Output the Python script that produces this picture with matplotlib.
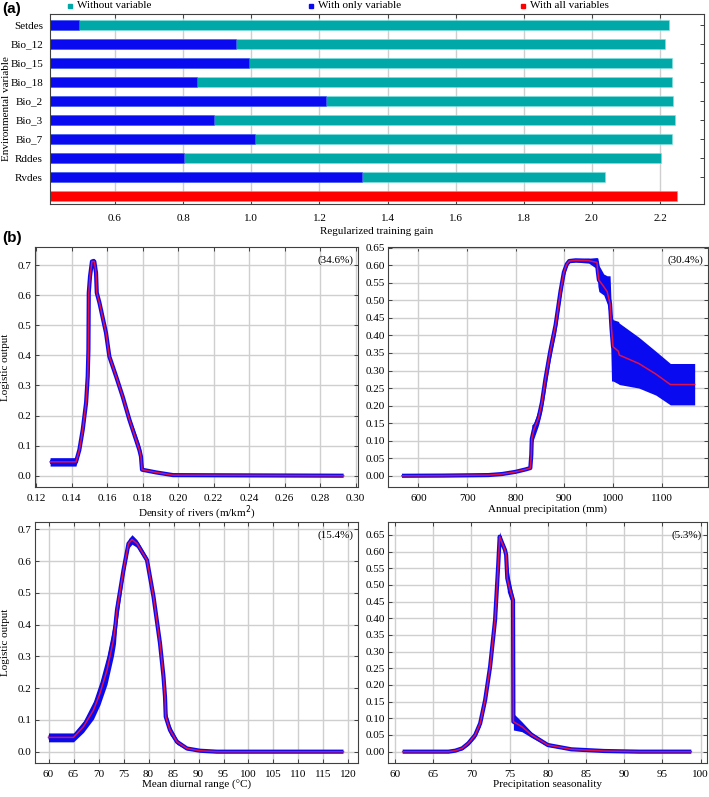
import numpy as np
import matplotlib
matplotlib.use("Agg")
import matplotlib.pyplot as plt
from matplotlib.lines import Line2D

plt.rcParams['font.family'] = ['Liberation Serif', 'DejaVu Serif']
plt.rcParams['font.size'] = 8

# ---- (a) jackknife of regularized training gain ----
variables = ["Setdes", "Bio_12", "Bio_15", "Bio_18", "Bio_2", "Bio_3", "Bio_7", "Rddes", "Rvdes"]
gain_without = [2.226, 2.215, 2.235, 2.235, 2.238, 2.244, 2.235, 2.203, 2.038]
gain_only = [0.494, 0.956, 0.994, 0.841, 1.22, 0.89, 1.012, 0.803, 1.324]
gain_all = 2.25
gain_ticks = [0.6, 0.8, 1.0, 1.2, 1.4, 1.6, 1.8, 2.0, 2.2]

# ---- (b) response curves ----
# density of rivers
x_rv = [0.1278, 0.1424, 0.1443, 0.1462, 0.1481, 0.149, 0.1494, 0.1496, 0.1503, 0.1514,
        0.1527, 0.1537, 0.1541, 0.1556, 0.1593, 0.1612, 0.165, 0.1687, 0.1725, 0.1762,
        0.1781, 0.179, 0.1796, 0.1875, 0.1971, 0.2932]
mean_rv = [0.046, 0.046, 0.086, 0.153, 0.243, 0.33, 0.419, 0.608, 0.662, 0.712,
           0.712, 0.674, 0.608, 0.575, 0.475, 0.396, 0.33, 0.263, 0.186, 0.12,
           0.086, 0.064, 0.02, 0.011, 0.002, 0.0]
sd_rv = [0.014, 0.014, 0.01, 0.008, 0.008, 0.008, 0.008, 0.01, 0.01, 0.01,
         0.01, 0.01, 0.01, 0.01, 0.01, 0.01, 0.01, 0.01, 0.012, 0.018,
         0.02, 0.02, 0.003, 0.002, 0.001, 0.0]

# annual precipitation (Bio_12)
x_bio12 = [566, 650, 744, 772, 799, 820, 830, 832, 833, 837,
           847, 854, 861, 871, 882, 892, 899, 905, 910, 923,
           950, 967, 969, 971, 981, 988, 994, 997, 1000, 1011,
           1013, 1053, 1088, 1118, 1168]
mean_bio12 = [0.0, 0.0005, 0.002, 0.005, 0.011, 0.018, 0.022, 0.06, 0.105, 0.13,
              0.165, 0.21, 0.275, 0.355, 0.43, 0.525, 0.58, 0.603, 0.612, 0.614,
              0.613, 0.608, 0.58, 0.558, 0.539, 0.525, 0.49, 0.42, 0.368, 0.355,
              0.344, 0.32, 0.29, 0.26, 0.26]
hi_bio12 = [0.0, 0.0005, 0.002, 0.005, 0.011, 0.018, 0.023, 0.10, 0.145, 0.15,
            0.19, 0.24, 0.31, 0.385, 0.455, 0.545, 0.595, 0.612, 0.617, 0.618,
            0.620, 0.622, 0.62, 0.60, 0.575, 0.57, 0.57, 0.46, 0.445, 0.44,
            0.435, 0.395, 0.355, 0.32, 0.32]
lo_bio12 = [0.0, 0.0005, 0.002, 0.005, 0.011, 0.018, 0.021, 0.04, 0.09, 0.105,
            0.145, 0.185, 0.245, 0.33, 0.405, 0.505, 0.565, 0.597, 0.607, 0.609,
            0.606, 0.59, 0.54, 0.525, 0.515, 0.49, 0.45, 0.27, 0.27, 0.262,
            0.26, 0.25, 0.23, 0.202, 0.202]

# mean diurnal range (Bio_2)
x_bio2 = [60, 65, 67, 69, 70.3, 71.7, 73, 73.4, 73.7, 75,
          76, 76.7, 77.7, 79.7, 81, 82.3, 83, 83.3, 83.45, 84.3,
          85.7, 87.7, 90.3, 93.7, 119]
mean_bio2 = [0.045, 0.045, 0.079, 0.131, 0.184, 0.257, 0.352, 0.40, 0.446, 0.572,
             0.655, 0.668, 0.655, 0.603, 0.488, 0.341, 0.236, 0.173, 0.11, 0.068,
             0.031, 0.010, 0.003, 0.0, 0.0]
sd_bio2 = [0.014, 0.014, 0.018, 0.028, 0.036, 0.045, 0.05, 0.06, 0.04, 0.02,
           0.015, 0.015, 0.012, 0.01, 0.012, 0.015, 0.02, 0.02, 0.02, 0.015,
           0.008, 0.004, 0.001, 0.0, 0.0]

# precipitation seasonality (Bio_15)
x_bio15 = [61, 67, 67.9, 68.8, 69.6, 70.5, 71.15, 71.8, 72.45, 73.1,
           73.5, 73.7, 73.95, 74.4, 74.55, 74.7, 75.0, 75.45, 75.5, 76.6,
           77.9, 80.0, 83.1, 87.4, 92, 98.8]
mean_bio15 = [0.0, 0.0, 0.003, 0.01, 0.025, 0.05, 0.085, 0.155, 0.255, 0.395,
              0.555, 0.645, 0.63, 0.605, 0.59, 0.52, 0.49, 0.455, 0.09, 0.075,
              0.05, 0.02, 0.007, 0.002, 0.0, 0.0]
sd_bio15 = [0, 0, 0.002, 0.004, 0.006, 0.008, 0.01, 0.01, 0.01, 0.01,
            0.012, 0.015, 0.01, 0.01, 0.015, 0.04, 0.03, 0.015, 0.025, 0.015,
            0.008, 0.004, 0.002, 0.001, 0, 0]

TEAL = '#00a8a8'
BLUE = '#0a0af0'
RED = '#ff0000'
LINE_RED = '#e0104c'
GRID = '#cfcfcf'

fig = plt.figure(figsize=(7.09, 7.97), dpi=100)
W, H = 709.0, 797.0


def px_axes(l, t, r, b):
    return fig.add_axes([l / W, 1 - b / H, (r - l) / W, (b - t) / H])


def style(ax):
    for s in ax.spines.values():
        s.set_color('#404040')
        s.set_linewidth(0.8)
    ax.tick_params(direction='in', top=True, right=True, length=3, width=0.7,
                   color='#404040')
    ax.tick_params(axis='x', pad=5)
    ax.tick_params(axis='y', pad=2.5)
    ax.grid(True, color=GRID, linewidth=1.0)
    ax.set_axisbelow(True)


# ---------- panel (a) ----------
ax_a = px_axes(50, 14, 704, 204)
style(ax_a)
ax_a.grid(False, axis='y')
rows = np.arange(len(variables), 0, -1)
ax_a.barh(rows, gain_without, height=0.52, color=TEAL, edgecolor='#7fe0e0', linewidth=0.4)
ax_a.barh(rows, gain_only, height=0.52, color=BLUE, edgecolor='#6060ff', linewidth=0.4)
ax_a.barh([0], [gain_all], height=0.52, color=RED, edgecolor='#ff8080', linewidth=0.4)
ax_a.set_xlim(0.409, 2.329)
ax_a.set_ylim(-0.42, 9.58)
ax_a.set_xticks(gain_ticks)
ax_a.set_xticklabels(["%.1f" % t for t in gain_ticks])
ax_a.set_yticks(rows)
ax_a.set_yticklabels(variables)
ax_a.tick_params(axis='y', left=False, pad=5)
ax_a.tick_params(axis='x', pad=7)
fig.text(377 / W, 1 - 232 / H, "Regularized training gain", ha='center', va='center')
fig.text(7 / W, 1 - 109 / H, "Environmental variable", rotation=90,
         ha='center', va='center')

legend_items = [(70, "Without variable", TEAL), (311, "With only variable", BLUE),
                (523, "With all variables", RED)]
for x0, label, c in legend_items:
    fig.add_artist(Line2D([x0 / W], [1 - 6 / H], marker='s', markersize=3.5,
                          color=c, linestyle='none', transform=fig.transFigure))
    fig.text((x0 + 7) / W, 1 - 6 / H, label, ha='left', va='center')

fig.text(2 / W, 1 - 9 / H, "(a)", family='Liberation Sans', fontweight='bold',
         fontsize=11, ha='left', va='center')
fig.text(2 / W, 1 - 238 / H, "(b)", family='Liberation Sans', fontweight='bold',
         fontsize=11, ha='left', va='center')


# ---------- response curves ----------
def curve(ax, x, mean, lo, hi):
    ax.fill_between(x, lo, hi, color=BLUE, linewidth=0, zorder=2)
    ax.plot(x, mean, color=BLUE, linewidth=3.0, zorder=2, solid_capstyle='butt')
    ax.plot(x, mean, color=LINE_RED, linewidth=1.1, zorder=3)


panels = [
    dict(box=(35, 247, 358, 487), x=x_rv, mean=mean_rv,
         lo=np.array(mean_rv) - np.array(sd_rv), hi=np.array(mean_rv) + np.array(sd_rv),
         xlim=(0.1193, 0.3013), ylim=(-0.0375, 0.76),
         xticks=[0.12, 0.14, 0.16, 0.18, 0.20, 0.22, 0.24, 0.26, 0.28, 0.30], xfmt="%.2f",
         yticks=[0.0, 0.1, 0.2, 0.3, 0.4, 0.5, 0.6, 0.7], yfmt="%.1f",
         xlabel="Density of rivers (m/km$^2$)", pct="(34.6%)", ylab=True),
    dict(box=(388, 247, 708, 487), x=x_bio12, mean=mean_bio12, lo=lo_bio12, hi=hi_bio12,
         xlim=(537.3, 1195.4), ylim=(-0.032, 0.652),
         xticks=[600, 700, 800, 900, 1000, 1100], xfmt="%d",
         yticks=[0.0, 0.05, 0.1, 0.15, 0.2, 0.25, 0.3, 0.35, 0.4, 0.45, 0.5, 0.55, 0.6, 0.65],
         yfmt="%.2f", xlabel="Annual precipitation (mm)", pct="(30.4%)", ylab=False),
    dict(box=(35, 522, 358, 763), x=x_bio2, mean=mean_bio2,
         lo=np.array(mean_bio2) - np.array(sd_bio2), hi=np.array(mean_bio2) + np.array(sd_bio2),
         xlim=(57.3, 121.9), ylim=(-0.0356, 0.723),
         xticks=list(range(60, 121, 5)), xfmt="%d",
         yticks=[0.0, 0.1, 0.2, 0.3, 0.4, 0.5, 0.6, 0.7], yfmt="%.1f",
         xlabel="Mean diurnal range (°C)", pct="(15.4%)", ylab=True),
    dict(box=(388, 522, 707, 763), x=x_bio15, mean=mean_bio15,
         lo=np.array(mean_bio15) - np.array(sd_bio15), hi=np.array(mean_bio15) + np.array(sd_bio15),
         xlim=(59.08, 100.85), ylim=(-0.034, 0.689),
         xticks=list(range(60, 101, 5)), xfmt="%d",
         yticks=[0.0, 0.05, 0.1, 0.15, 0.2, 0.25, 0.3, 0.35, 0.4, 0.45, 0.5, 0.55, 0.6, 0.65],
         yfmt="%.2f", xlabel="Precipitation seasonality", pct="(5.3%)", ylab=False),
]

for p in panels:
    ax = px_axes(*p['box'])
    style(ax)
    curve(ax, p['x'], p['mean'], p['lo'], p['hi'])
    ax.set_xlim(*p['xlim'])
    ax.set_ylim(*p['ylim'])
    ax.set_xticks(p['xticks'])
    ax.set_xticklabels([p['xfmt'] % t for t in p['xticks']])
    ax.set_yticks(p['yticks'])
    ax.set_yticklabels([p['yfmt'] % t for t in p['yticks']])
    ax.set_xlabel(p['xlabel'], labelpad=1)
    if p['ylab']:
        l, t, r, b = p['box']
        fig.text(6 / W, 1 - (t + b) / 2 / H, "Logistic output", rotation=90,
                 ha='center', va='center')
    ax.text(0.985, 0.965, p['pct'], transform=ax.transAxes, ha='right', va='top')

fig.savefig("out.png", dpi=100)
